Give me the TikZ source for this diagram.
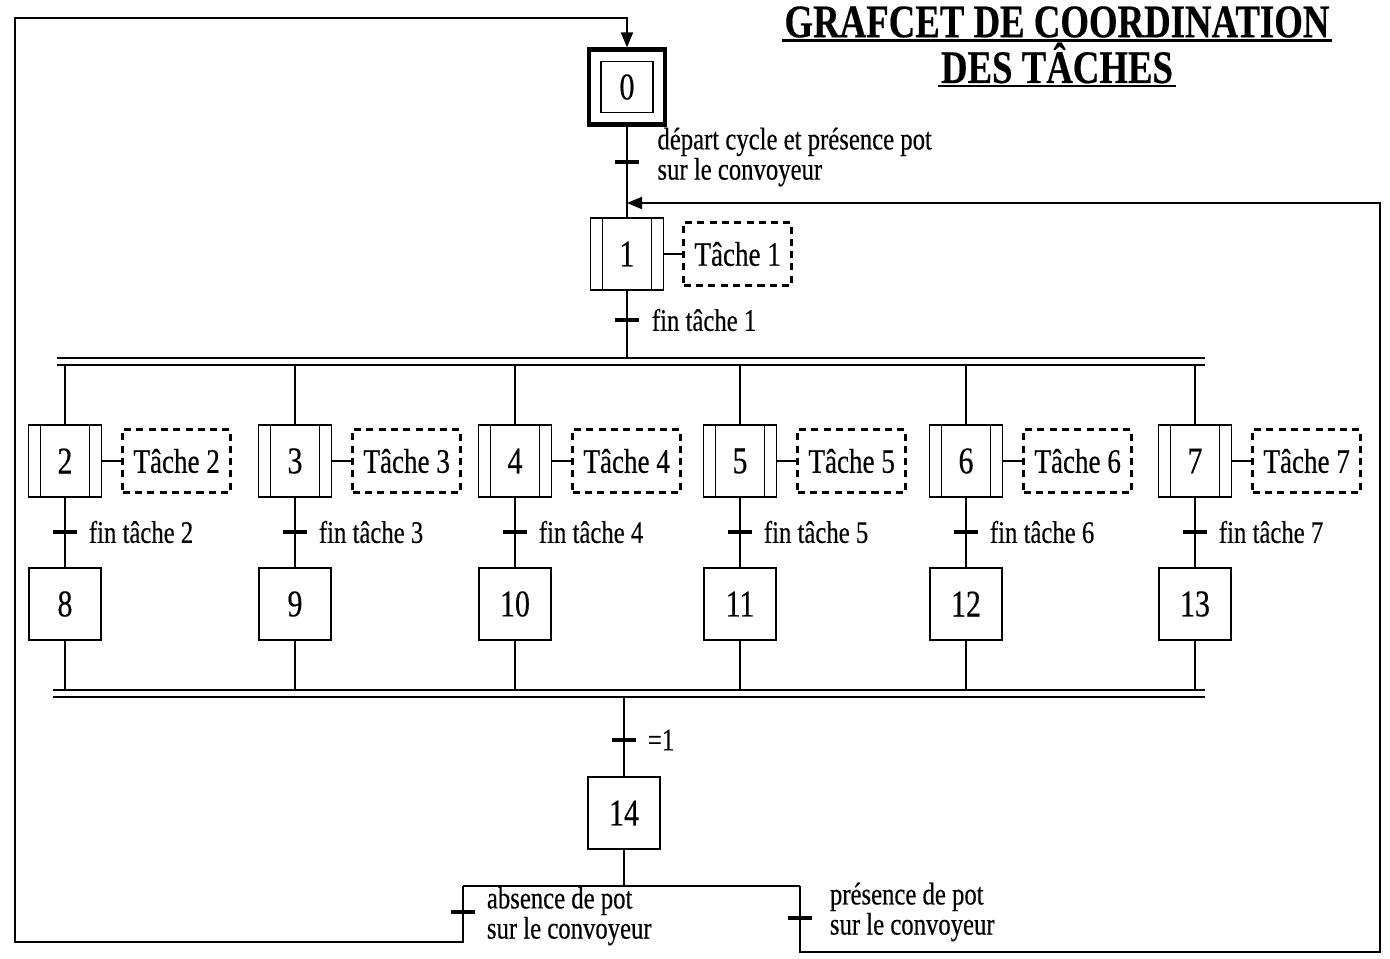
\documentclass[tikz,border=0pt]{standalone}
\usepackage{fontspec}
\setmainfont[FakeStretch=0.79,FakeBold=0.4]{Liberation Serif}
\usetikzlibrary{positioning,arrows.meta}
\begin{document}
\begin{tikzpicture}[x=0.02cm,y=-0.02cm,line width=1.1pt,
  etape/.style={draw, minimum width=1.44cm, minimum height=1.44cm, inner sep=0pt, font=\fontsize{21.5}{24}\selectfont},
  initiale/.style={etape, line width=2.4pt, minimum width=1.52cm, minimum height=1.5cm,
    path picture={\draw[line width=1.1pt] ([shift={(0.24cm,-0.24cm)}]path picture bounding box.north west) rectangle ([shift={(-0.24cm,0.24cm)}]path picture bounding box.south east);}},
  tache/.style={etape, minimum width=1.46cm,
    path picture={\draw ([xshift=0.24cm]path picture bounding box.north west) -- ([xshift=0.24cm]path picture bounding box.south west);
                  \draw ([xshift=-0.24cm]path picture bounding box.north east) -- ([xshift=-0.24cm]path picture bounding box.south east);}},
  action/.style={draw, dash pattern=on 4pt off 3pt, line width=1.4pt, minimum width=2.16cm, minimum height=1.26cm, font=\fontsize{19.5}{22}\selectfont},
  trans/.style={fill, minimum width=0.48cm, minimum height=1.8pt, inner sep=0pt},
  recept/.style={font=\fontsize{17.8}{16}\selectfont, align=left, anchor=west, inner sep=2pt},
  titre/.style={font=\bfseries\fontsize{26.5}{28}\selectfont, inner sep=1pt},
  fleche/.style={-{Triangle[length=0.3cm,width=0.24cm]}}]
  \useasboundingbox (0,0) rectangle (1390,959);
  % titre
  \node[titre] (ti1) at (1057,22) {GRAFCET DE COORDINATION};
  \node[titre] (ti2) at (1057,63) {DES TÂCHES};
  \draw[line width=1.5pt] (ti1.south west) -- (ti1.south east) (ti2.south west) -- (ti2.south east);
  % etapes 0 et 1
  \node[initiale] (e0) at (627,87) {0};
  \node[trans] (t0) at (627,162) {};
  \node[recept] at (653,157) {départ cycle et présence pot\\sur le convoyeur};
  \node[tache] (e1) at (627,254) {1};
  \node[action, right=0.36cm of e1] (a1) {Tâche 1};
  \draw (e1) -- (a1);
  \node[trans] (t1) at (627,320) {};
  \node[recept, right=0.15cm of t1] {fin tâche 1};
  \coordinate (d1) at (627,358); \coordinate (j1) at (627,365);
  \draw (e0) -- (e1) (e1) -- (d1);
  % divergence en ET
  \draw (57,358) -- (1205,358) (57,365) -- (1205,365);
  \draw (53,690) -- (1205,690) (53,697) -- (1205,697);
  \coordinate (j2) at (624,690);
  \foreach \n/\m/\x in {2/8/65, 3/9/295, 4/10/515, 5/11/740, 6/12/966, 7/13/1195} {
    \node[tache] (e\n) at (\x,461) {\n};
    \node[action, right=0.38cm of e\n] (a\n) {Tâche \n};
    \node[trans] (t\n) at (\x,532) {};
    \node[recept, right=0.13cm of t\n] {fin tâche \n};
    \node[etape] (e\m) at (\x,604) {\m};
    \draw (e\n |- j1) -- (e\n) -- (e\m) -- (e\m |- j2);
    \draw (e\n) -- (a\n);
  }
  % etape 14 et choix
  \coordinate (j3) at (624,697);
  \node[trans] (t14) at (624,740) {};
  \node[recept, right=0.13cm of t14] {=1};
  \node[etape] (e14) at (624,813) {14};
  \draw (j3) -- (e14);
  \coordinate (s) at (624,886); \coordinate (sg) at (463,886); \coordinate (sd) at (800,886);
  \draw (e14) -- (s) (sg) -- (sd);
  \node[trans] (t15) at (463,912) {};
  \node[recept, right=0.13cm of t15, yshift=-0.08cm] {absence de pot\\sur le convoyeur};
  \node[trans] (t16) at (800,918) {};
  \node[recept, right=0.25cm of t16, yshift=0.12cm] {présence de pot\\sur le convoyeur};
  % retours
  \coordinate (bg) at (463,942); \coordinate (hg) at (15,18);
  \coordinate (bd) at (800,952); \coordinate (hd) at (1380,203);
  \draw[fleche] (sg) -- (bg) -| (hg) -| (e0.north);
  \draw[fleche] (sd) -- (bd) -| (hd) -- (hd -| e1);
\end{tikzpicture}
\end{document}
